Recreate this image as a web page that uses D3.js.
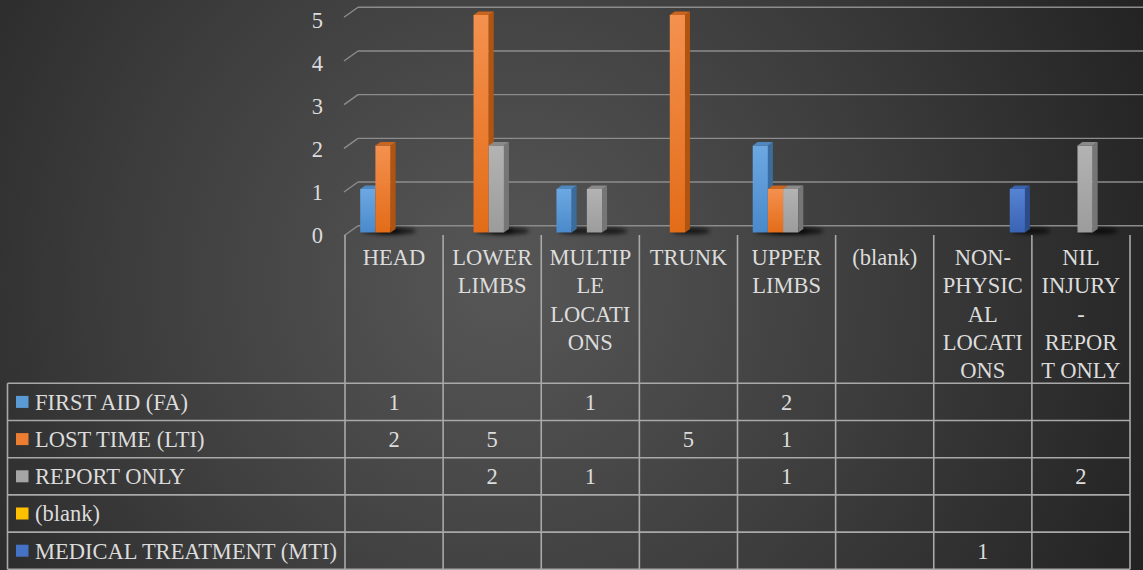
<!DOCTYPE html>
<html>
<head>
<meta charset="utf-8">
<script src="https://cdn.jsdelivr.net/npm/d3@7"></script>
<style>
  html, body { margin: 0; padding: 0; background: #2a2a2a; }
  svg { display: block; }
  text { font-family: "Liberation Serif", "Times New Roman", serif; fill: #dcdcdc; }
</style>
</head>
<body>
<svg id="chart" width="1143" height="570"></svg>
<script>
// ---------- DATA ----------
const categories = ["HEAD", "LOWER LIMBS", "MULTIPLE LOCATIONS", "TRUNK", "UPPER LIMBS", "(blank)", "NON-PHYSICAL LOCATIONS", "NIL INJURY - REPORT ONLY"];
const categoryLines = [["HEAD"], ["LOWER", "LIMBS"], ["MULTIP", "LE", "LOCATI", "ONS"], ["TRUNK"], ["UPPER", "LIMBS"], ["(blank)"], ["NON-", "PHYSIC", "AL", "LOCATI", "ONS"], ["NIL", "INJURY", "-", "REPOR", "T ONLY"]];
const seriesNames = ["FIRST AID (FA)", "LOST TIME (LTI)", "REPORT ONLY", "(blank)", "MEDICAL TREATMENT (MTI)"];
const firstAid = [1, null, 1, null, 2, null, null, null];
const lostTime = [2, 5, null, 5, 1, null, null, null];
const reportOnly = [null, 2, 1, null, 1, null, null, 2];
const blankSeries = [null, null, null, null, null, null, null, null];
const medicalTreatment = [null, null, null, null, null, null, 1, null];
const yTicks = [0, 1, 2, 3, 4, 5];

const seriesValues = [firstAid, lostTime, reportOnly, blankSeries, medicalTreatment];
const seriesColors = [
  { top: "#6CA9E3", bottom: "#4A89CB", side: "#3C6C9C", cap: "#4F88BF", key: "#5B9BD5" },
  { top: "#F4914F", bottom: "#E36C18", side: "#B0540F", cap: "#C9651F", key: "#ED7D31" },
  { top: "#B3B3B3", bottom: "#9C9C9C", side: "#767676", cap: "#8A8A8A", key: "#A5A5A5" },
  { top: "#FFCB33", bottom: "#F0B400", side: "#B88A00", cap: "#D9A300", key: "#FFC000" },
  { top: "#5683D3", bottom: "#3A63B3", side: "#2C4C8A", cap: "#3B62AA", key: "#4472C4" }
];

// ---------- SETUP ----------
const svg = d3.select("#chart");
const W = 1143, H = 570;
const defs = svg.append("defs");
const FS = 22.5;

const bg = defs.append("radialGradient").attr("id", "bg")
  .attr("gradientUnits", "userSpaceOnUse")
  .attr("cx", 500).attr("cy", 280).attr("r", 700);
bg.append("stop").attr("offset", "0").attr("stop-color", "#575757");
bg.append("stop").attr("offset", "0.55").attr("stop-color", "#3c3c3c");
bg.append("stop").attr("offset", "1").attr("stop-color", "#232323");
svg.append("rect").attr("width", W).attr("height", H).attr("fill", "url(#bg)");

seriesColors.forEach((c, i) => {
  const g = defs.append("linearGradient").attr("id", "front" + i)
    .attr("x1", 0).attr("y1", 0).attr("x2", 0).attr("y2", 1);
  g.append("stop").attr("offset", "0").attr("stop-color", c.top);
  g.append("stop").attr("offset", "1").attr("stop-color", c.bottom);
});
const blur = defs.append("filter").attr("id", "shadowBlur")
  .attr("x", "-50%").attr("y", "-200%").attr("width", "200%").attr("height", "500%");
blur.append("feGaussianBlur").attr("stdDeviation", 2.2);

// ---------- SCALES ----------
const tableLeft = 7.5, labelColRight = 345, tableRight = 1130;
const x = d3.scaleBand().domain(categories).range([labelColRight, tableRight]).padding(0);
const bw = x.bandwidth();
const xs = d3.scaleBand().domain(seriesNames).range([bw * 0.155, bw * 0.155 + 76]).padding(0);
const barW = xs.bandwidth();

const yBack = d3.scaleLinear().domain([0, 5]).range([225.7, 7.3]);   // back wall gridlines
const yBar = d3.scaleLinear().domain([0, 5]).range([232.5, 15]);      // bar front faces
const yLabel = d3.scaleLinear().domain([0, 5]).range([235, 20]);      // axis labels
const depthX = 14, depthY = 10;   // side wall depth
const barDX = 5, barDY = 3.5;     // bar depth

const gridColor = "#8c8c8c";

// ---------- GRIDLINES & AXIS ----------
const grid = svg.append("g");
yTicks.forEach(t => {
  const yb = yBack(t);
  grid.append("line").attr("x1", labelColRight - 1 + depthX).attr("x2", W)
    .attr("y1", yb).attr("y2", yb)
    .attr("stroke", gridColor).attr("stroke-width", 1.4);
  grid.append("line").attr("x1", labelColRight - 1).attr("y1", yb + depthY)
    .attr("x2", labelColRight - 1 + depthX).attr("y2", yb)
    .attr("stroke", gridColor).attr("stroke-width", 1.4);
});
const yAxis = d3.axisLeft(yLabel).tickValues(yTicks).tickFormat(d3.format("d")).tickSize(0).tickPadding(0);
const ax = svg.append("g").attr("transform", "translate(323,0)").call(yAxis);
ax.select(".domain").remove();
ax.selectAll("text").attr("font-size", FS).attr("fill", "#dcdcdc")
  .style("font-family", "'Liberation Serif', serif").attr("dy", "0.35em");

// ---------- SHADOWS ----------
const shadows = svg.append("g");
const bars = svg.append("g");
seriesValues.forEach((vals, si) => {
  vals.forEach((v, ci) => {
    if (v == null) return;
    const x0 = x(categories[ci]) + xs(seriesNames[si]);
    shadows.append("ellipse")
      .attr("cx", x0 + barW + 6).attr("cy", yBar(0) - 1.5)
      .attr("rx", barW + 4).attr("ry", 3.2)
      .attr("fill", "#000").attr("opacity", 0.7)
      .attr("filter", "url(#shadowBlur)");
  });
});

// ---------- BARS ----------
categories.forEach((cat, ci) => {
  seriesValues.forEach((vals, si) => {
    const v = vals[ci];
    if (v == null) return;
    const c = seriesColors[si];
    const x0 = x(cat) + xs(seriesNames[si]);
    const x1 = x0 + barW;
    const yt = yBar(v), yb = yBar(0);
    const g = bars.append("g");
    g.append("rect").attr("x", x0).attr("y", yt).attr("width", barW).attr("height", yb - yt)
      .attr("fill", "url(#front" + si + ")");
    g.append("path")
      .attr("d", `M${x1},${yt} L${x1 + barDX},${yt - barDY} L${x1 + barDX},${yb - barDY} L${x1},${yb} Z`)
      .attr("fill", c.side);
    g.append("path")
      .attr("d", `M${x0},${yt} L${x0 + barDX},${yt - barDY} L${x1 + barDX},${yt - barDY} L${x1},${yt} Z`)
      .attr("fill", c.cap);
  });
});

// ---------- DATA TABLE ----------
const headerTop = 235, rowsTop = 383.3, rowsBottom = 569.3;
const yRow = d3.scaleBand().domain(seriesNames).range([rowsTop, rowsBottom]).padding(0);
const rh = yRow.bandwidth();
const table = svg.append("g");
const lineColor = "#a9a9a9";

// horizontal lines
[rowsTop, ...seriesNames.map(s => yRow(s) + rh)].forEach(yy => {
  table.append("line").attr("x1", tableLeft).attr("x2", tableRight)
    .attr("y1", yy).attr("y2", yy).attr("stroke", lineColor).attr("stroke-width", 1.6);
});
// vertical lines
table.append("line").attr("x1", tableLeft).attr("x2", tableLeft)
  .attr("y1", rowsTop).attr("y2", rowsBottom).attr("stroke", lineColor).attr("stroke-width", 1.6);
[...categories.map(c => x(c)), tableRight].forEach(xx => {
  table.append("line").attr("x1", xx).attr("x2", xx)
    .attr("y1", headerTop).attr("y2", rowsBottom).attr("stroke", lineColor).attr("stroke-width", 1.6);
});

// category header labels
categories.forEach((cat, ci) => {
  const t = table.append("text").attr("text-anchor", "middle").attr("font-size", FS)
    .attr("x", x(cat) + bw / 2).attr("y", 265);
  categoryLines[ci].forEach((ln, li) => {
    t.append("tspan").attr("x", x(cat) + bw / 2).attr("y", 265 + li * 28.3).text(ln);
  });
});

// row labels with legend keys
seriesNames.forEach((s, si) => {
  const cy = yRow(s) + rh / 2;
  table.append("rect").attr("x", 16).attr("y", cy - 6).attr("width", 12.5).attr("height", 12)
    .attr("fill", seriesColors[si].key);
  table.append("text").attr("x", 35).attr("y", cy).attr("dy", "0.35em")
    .attr("font-size", FS).text(s);
  seriesValues[si].forEach((v, ci) => {
    if (v == null) return;
    table.append("text").attr("x", x(categories[ci]) + bw / 2).attr("y", cy).attr("dy", "0.35em")
      .attr("text-anchor", "middle").attr("font-size", FS).text(v);
  });
});
</script>
</body>
</html>
